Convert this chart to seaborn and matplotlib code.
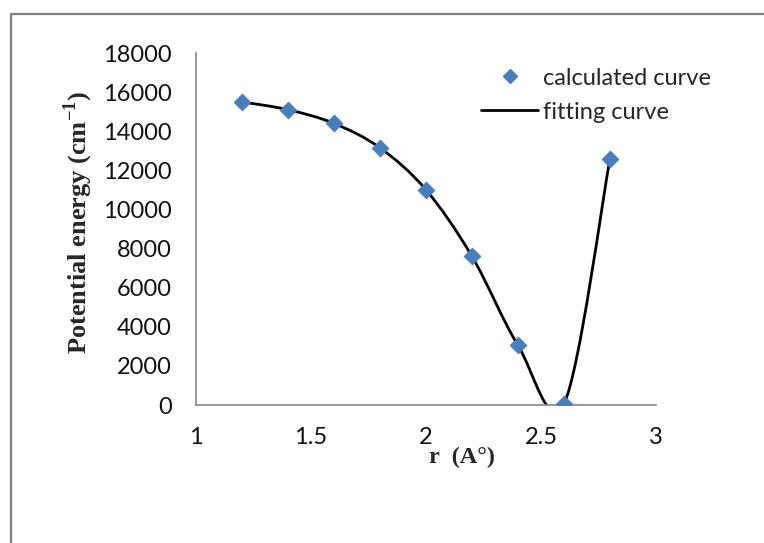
import matplotlib
matplotlib.use("Agg")
import matplotlib.pyplot as plt
from matplotlib.lines import Line2D
from matplotlib.patches import PathPatch, Rectangle
from matplotlib.path import Path
import numpy as np
import pandas as pd
import seaborn as sns

r_values = [1.2, 1.4, 1.6, 1.8, 2.0, 2.2, 2.4, 2.6, 2.8]
energy = [15500, 15100, 14400, 13150, 11000, 7600, 3050, 60, 12600]

X_LABEL = 'r  (A°)'
Y_LABEL = 'Potential energy (cm$^{\\mathbf{-1}}$)'
MARKER_BLUE = '#4A7EBB'
AXIS_GREY = '#868686'


def smooth_path(xs, ys):
    # Excel style smoothed line: cubic Bezier pieces through every point
    pts = np.column_stack([xs, ys]).astype(float)
    ext = np.vstack([pts[0], pts, pts[-1]])
    verts = [pts[0]]
    codes = [Path.MOVETO]
    for i in range(len(pts) - 1):
        p0, p1, p2, p3 = ext[i], ext[i + 1], ext[i + 2], ext[i + 3]
        verts += [p1 + (p2 - p0) / 6, p2 - (p3 - p1) / 6, p2]
        codes += [Path.CURVE4] * 3
    return Path(verts, codes)


def show_chart():
    sns.set_style("white")
    plt.rcParams['font.family'] = ['Lato', 'DejaVu Sans']
    plt.rcParams['mathtext.fontset'] = 'custom'
    plt.rcParams['mathtext.rm'] = 'Liberation Serif:bold'
    plt.rcParams['mathtext.bf'] = 'Liberation Serif:bold'

    df = pd.DataFrame({'r': r_values, 'E': energy})

    fig = plt.figure(figsize=(7.64, 5.43), dpi=100)
    ax = fig.add_axes([196 / 764, 1 - 405 / 543, 460 / 764, 352 / 543])

    fit = PathPatch(smooth_path(df['r'], df['E']), facecolor='none',
                    edgecolor='black', lw=2, zorder=2)
    ax.add_patch(fit)
    sns.scatterplot(data=df, x='r', y='E', ax=ax, marker='D', s=75,
                    color=MARKER_BLUE, edgecolor=MARKER_BLUE, linewidth=0.5,
                    zorder=3, legend=False)

    ax.set_xlim(1, 3)
    ax.set_ylim(0, 18000)
    ax.set_xticks([1, 1.5, 2, 2.5, 3])
    ax.set_xticklabels(['1', '1.5', '2', '2.5', '3'])
    ax.set_yticks(range(0, 18001, 2000))

    for side in ['top', 'right']:
        ax.spines[side].set_visible(False)
    for side in ['left', 'bottom']:
        ax.spines[side].set_color(AXIS_GREY)
        ax.spines[side].set_linewidth(1.2)
    ax.tick_params(axis='both', direction='out', length=6.5, width=1.2,
                   color=AXIS_GREY, labelsize=17, labelcolor='#111111')
    ax.tick_params(axis='y', pad=11)
    ax.tick_params(axis='x', pad=9)

    ax.set_xlabel(X_LABEL, family='Liberation Serif', weight='bold', fontsize=17.5)
    ax.set_ylabel(Y_LABEL, family='Liberation Serif', weight='bold', fontsize=19)
    ax.xaxis.set_label_coords(0.578, -0.15)
    ax.yaxis.set_label_coords(-0.257, 0.52)
    ax.xaxis.label.set_va('center')
    ax.yaxis.label.set_va('center')

    handles = [
        Line2D([], [], ls='none', marker='D', ms=7, color=MARKER_BLUE),
        Line2D([], [], color='black', lw=2),
    ]
    ax.legend(handles, ['calculated curve', 'fitting curve'], frameon=False,
              loc='upper left', bbox_to_anchor=(0.6, 0.985), fontsize=17,
              handlelength=2.4, handletextpad=0.2, labelspacing=0.55,
              borderaxespad=0)

    fig.patches.append(Rectangle((11 / 764, -0.1), 1.2, 0.1 + 1 - 14 / 543,
                                 transform=fig.transFigure, fill=False,
                                 edgecolor='#7f7f7f', lw=1.6))

    fig.savefig("out.png", dpi=100, facecolor='white')


if __name__ == '__main__':
    show_chart()
